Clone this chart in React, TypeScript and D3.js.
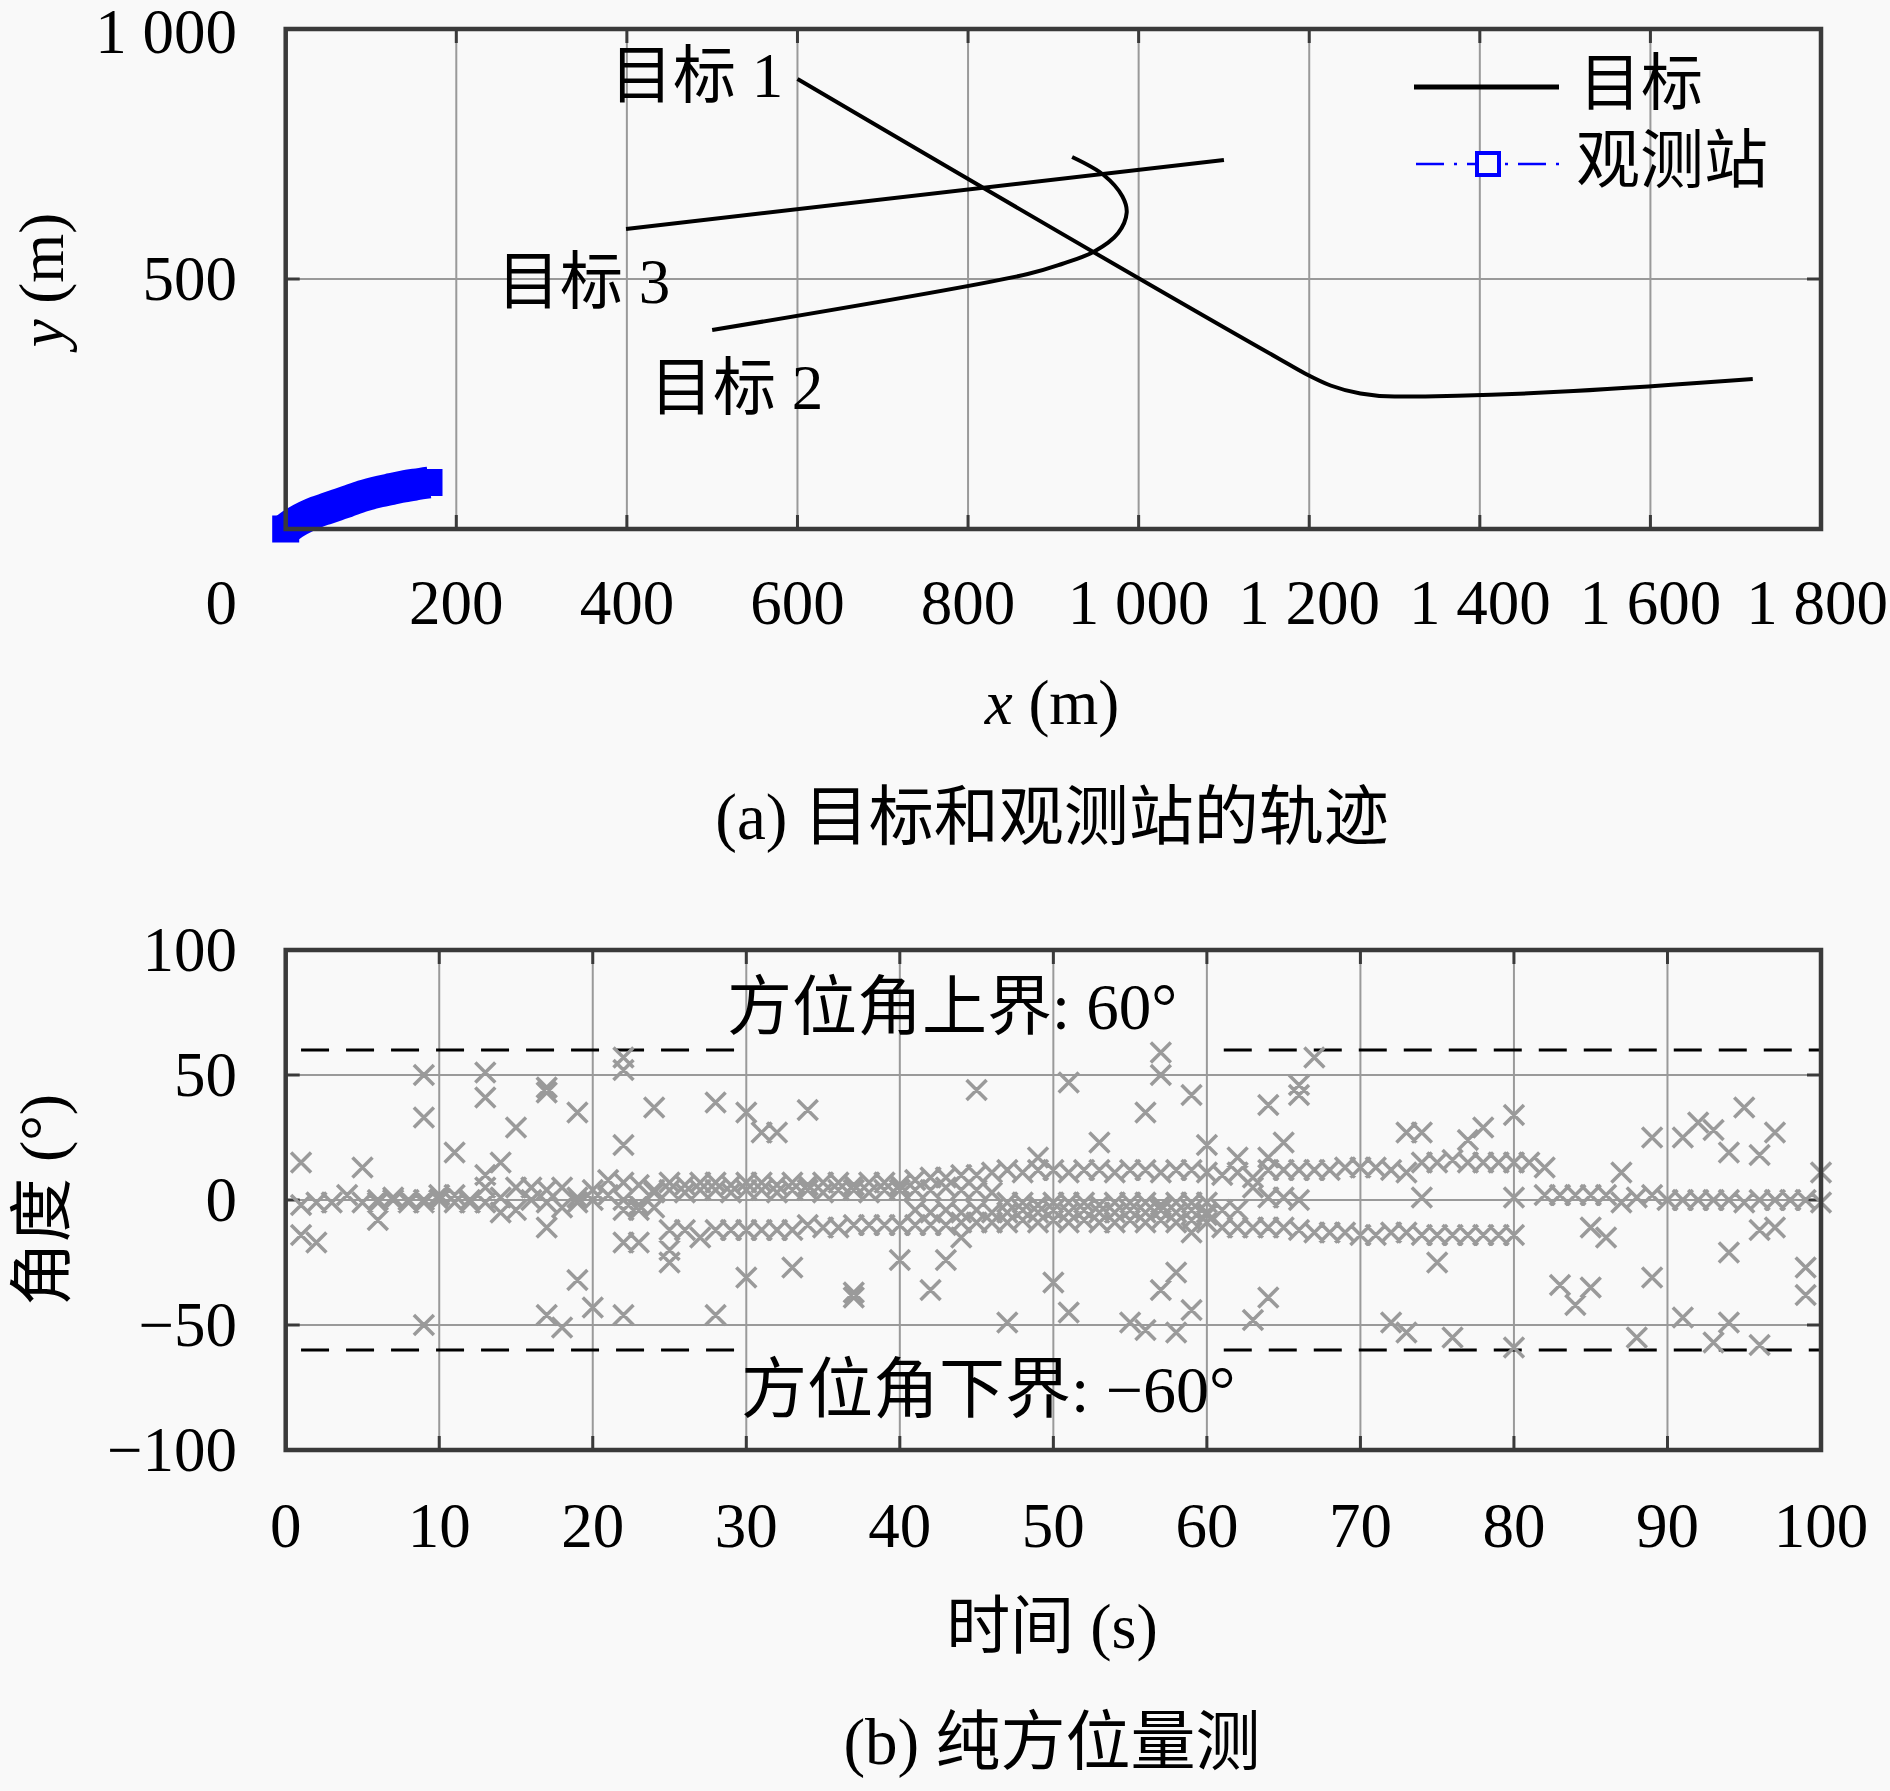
import React from 'react';
import * as d3 from 'd3';

// ---------- Panel (a) data ----------
const xTicksA = [0, 200, 400, 600, 800, 1000, 1200, 1400, 1600, 1800];
const xTickLabelsA = ['0', '200', '400', '600', '800', '1 000', '1 200', '1 400', '1 600', '1 800'];
const yTicksA = [0, 500, 1000];
const yTickLabelsA = ['', '500', '1 000'];

const target1: [number, number][] = [[600, 900], [1165, 340], [1195, 311], [1225, 287], [1260, 271], [1300, 265], [1720, 300]];
const target2: [number, number][] = [[500, 398], [870, 510], [910, 530], [948, 555], [976, 592], [986, 633], [981, 665], [959, 708], [922, 744]];
const target3: [number, number][] = [[399, 600], [1100, 738]];
const station: [number, number][] = [[0, 0], [12, 14], [24, 25], [36, 34], [48, 41], [60, 48], [72, 55], [90, 66], [110, 75], [124, 80], [138, 85], [152, 89], [168, 93]];

const targetLabels = [
  { text: '目标 1', x: 610, y: 76 },
  { text: '目标 3', x: 497, y: 282 },
  { text: '目标 2', x: 650, y: 388 },
];

// ---------- Panel (b) data ----------
const xTicksB = [0, 10, 20, 30, 40, 50, 60, 70, 80, 90, 100];
const yTicksB = [-100, -50, 0, 50, 100];
const yTickLabelsB = ['−100', '−50', '0', '50', '100'];
const boundSegments: [number, number][] = [[1, 29.3], [61.1, 100]];
const bounds = [60, -60];

// per-second bearings, t = 1..100 (null = no measurement)
const trackA: (number | null)[] = [
  -2, -1, -1, 2, -1, 0, 0, 0, -1, 2, -1, 0,
  5, 1, 5, 5, 4, 5, 1, 4,
  8, 7, 6, 4,
  7, 6, 7, 7, 6, 7, 7, 6, 7, 6, 7, 7, 6, 7, 7, 6,
  8, 9, 9, 10, 10, 11,
  12, 11, 12, 12, 11, 12, 12, 11, 12, 12, 11, 12, 12, 11,
  10, 11, 9, 12,
  12, 12, 12, 12, 13, 13, 13, 12, 11,
  15, 15, 16, 15, 15, 15, 15, 15,
  2, 2, 2, 2, 2, -1, 1, 2,
  0, 0, 0, 0, 0, -1, 0, 0, 0, 0, -1,
];
const trackB: (number | null)[] = [
  null, null, null, null, null, -1, 1, -1, 0, 0, 2, -1,
  -1, -5, -4, 0, -1, -3, -1, 0,
  2, 0, -2, 3,
  4, 3, 4, 4, 3, 4, 4, 3, 4, 4, 3, 4, 4, 3, 4, 4,
  4, 4, 5, 4, 4, 3,
  -1, -1, -2, -1, -1, -1, -2, -1, -1, -1, -2, -1, -1, -1,
  -4, -4, 5, 1, 1, 0,
  null, null, null, null, null, null, null, null, null, null, null, null, null, null, null, null, null,
  null, null, null, null, null, null, null, null, null, null, null, null, null, null, null, null, null,
];
const trackC: (number | null)[] = [
  null, null, null, null, null, null, null, null, null, null, null, null,
  null, null, null, null, null, null, null, null,
  null, -4, -4, -3,
  -12, -12, -15, -12, -12, -12, -12, -12, -12, -10, -11, -11, -10, -10, -10, -10,
  -10, -10, -10, -9, -9, -9,
  -9, -8, -9, -8, -9, -8, -9, -9, -8, -9, -8, -9, -8, -9,
  -11, -11, -11, -11, -11, -12,
  -13, -13, -13, -14, -14, -13, -13,
  -14, -14, -14, -14, -14, -14, -14,
  null, null, null, null, null, null, null, null, null, null,
  null, null, null, null, null, null, null, null, null, null,
];
const trackDStart = 41;
const trackD: number[] = [-4, -5, -4, -5, -4, -5, -5, -4, -5, -4, -5, -4, -5, -5, -4, -5, -4, -5, -4, -5];

const clutter: [number, number][] = [
  [1, 15], [1, -14], [2, -17], [5, 13], [6, -8], [9, 50], [9, 33], [9, -50], [11, 19], [13, 51], [13, 41], [13, 10],
  [14, 15], [15, 29], [17, 45], [17, 43], [17, -11], [19, 35], [19, -32], [20, -43], [17, -46], [18, -51],
  [22, 57], [22, 52], [24, 37], [22, 22], [28, 39], [30, 35], [31, 27], [32, 27], [34, 36], [22, -17], [23, -17],
  [25, -20], [25, -25], [30, -31], [33, -27], [37, -37], [37, -39], [22, -46], [28, -46], [40, -24],
  [45, 44], [51, 47], [57, 59], [57, 50], [59, 42], [56, 35], [53, 23], [60, 22], [49, 17], [43, -24], [42, -36],
  [44, -15], [50, -33], [51, -45], [47, -49], [55, -49], [56, -52], [58, -53], [59, -44], [57, -36], [58, -29],
  [59, -13], [60, -6],
  [67, 57], [66, 46], [66, 42], [64, 38], [65, 23], [64, 17], [62, 17], [73, 27], [74, 27], [78, 29], [77, 24],
  [80, 34], [74, 1], [80, 1], [75, -25], [64, -39], [63, -48], [72, -49], [73, -53], [76, -55], [80, -59],
  [82, 13], [87, 11], [85, -11], [86, -15], [89, 25], [91, 25], [92, 31], [93, 28], [95, 37], [97, 27], [94, 19],
  [96, 18], [96, -12], [97, -11], [94, -21], [99, -27], [99, -38], [83, -34], [85, -35], [84, -42], [89, -31],
  [91, -47], [94, -49], [88, -55], [93, -57], [96, -58], [100, 11], [100, -1],
];

// ---------- layout ----------
const W = 1890;
const H = 1791;
const LEFT = 285.7;
const RIGHT = 1821;
const LATIN = "'Liberation Serif', 'Noto Sans CJK SC', serif";
const BG = '#f9f9f9';
const BOX = '#3a3a3a';
const GRID = '#9a9a9a';
const FS = 63;

const xA = d3.scaleLinear().domain([0, 1800]).range([LEFT, RIGHT]);
const yA = d3.scaleLinear().domain([0, 1000]).range([529, 29]);
const xB = d3.scaleLinear().domain([0, 100]).range([LEFT, RIGHT]);
const yB = d3.scaleLinear().domain([-100, 100]).range([1450, 950]);

function Frame({ x, y, xTicks, yTicks }: { x: d3.ScaleLinear<number, number>; y: d3.ScaleLinear<number, number>; xTicks: number[]; yTicks: number[] }) {
  const [x0, x1] = x.range();
  const [y0, y1] = y.range();
  const tl = 14;
  return (
    <g>
      {xTicks.map((v) => (
        <line key={'gx' + v} x1={x(v)} x2={x(v)} y1={y0} y2={y1} stroke={GRID} strokeWidth={2} />
      ))}
      {yTicks.map((v) => (
        <line key={'gy' + v} x1={x0} x2={x1} y1={y(v)} y2={y(v)} stroke={GRID} strokeWidth={2} />
      ))}
      {xTicks.map((v) => (
        <g key={'tx' + v}>
          <line x1={x(v)} x2={x(v)} y1={y0} y2={y0 - tl} stroke={BOX} strokeWidth={3} />
          <line x1={x(v)} x2={x(v)} y1={y1} y2={y1 + tl} stroke={BOX} strokeWidth={3} />
        </g>
      ))}
      {yTicks.map((v) => (
        <g key={'ty' + v}>
          <line x1={x0} x2={x0 + tl} y1={y(v)} y2={y(v)} stroke={BOX} strokeWidth={3} />
          <line x1={x1} x2={x1 - tl} y1={y(v)} y2={y(v)} stroke={BOX} strokeWidth={3} />
        </g>
      ))}
    </g>
  );
}

function Box({ x, y }: { x: d3.ScaleLinear<number, number>; y: d3.ScaleLinear<number, number> }) {
  const [x0, x1] = x.range();
  const [y0, y1] = y.range();
  return <rect x={x0} y={y1} width={x1 - x0} height={y0 - y1} fill="none" stroke={BOX} strokeWidth={4.5} />;
}

export default function App() {
  const path1 = d3.line<[number, number]>().x((d) => xA(d[0])).y((d) => yA(d[1])).curve(d3.curveMonotoneX)(target1) || '';
  const path2 = d3.line<[number, number]>().x((d) => xA(d[0])).y((d) => yA(d[1])).curve(d3.curveCatmullRom.alpha(0.5))(target2) || '';
  const path3 = d3.line<[number, number]>().x((d) => xA(d[0])).y((d) => yA(d[1]))(target3) || '';
  const pathSt = d3.line<[number, number]>().x((d) => xA(d[0])).y((d) => yA(d[1])).curve(d3.curveMonotoneX)(station) || '';

  const pts: [number, number][] = [];
  [trackA, trackB, trackC].forEach((tr) => tr.forEach((v, i) => { if (v !== null) pts.push([i + 1, v]); }));
  trackD.forEach((v, i) => pts.push([trackDStart + i, v]));
  clutter.forEach((p) => pts.push(p));

  const h = 10;
  const crossPath = pts
    .map(([t, a]) => {
      const cx = xB(t);
      const cy = yB(a);
      return `M${cx - h},${cy - h}L${cx + h},${cy + h}M${cx - h},${cy + h}L${cx + h},${cy - h}`;
    })
    .join('');

  const sq = 27;
  const stEnds = [station[0], station[station.length - 1]];

  return (
    <svg width={W} height={H} viewBox={`0 0 ${W} ${H}`} style={{ position: 'absolute', left: 0, top: 0, background: BG }} fontFamily={LATIN}>
      <rect x={0} y={0} width={W} height={H} fill={BG} />

      {/* ---------- Panel (a) ---------- */}
      <Frame x={xA} y={yA} xTicks={xTicksA} yTicks={yTicksA} />
      <path d={path3} fill="none" stroke="#000" strokeWidth={4} />
      <path d={path2} fill="none" stroke="#000" strokeWidth={4} />
      <path d={path1} fill="none" stroke="#000" strokeWidth={4} />
      <path d={pathSt} fill="none" stroke="#0000ff" strokeWidth={32} strokeLinejoin="round" />
      {stEnds.map((d, i) => (
        <rect key={'st' + i} x={xA(d[0]) - sq / 2} y={yA(d[1]) - sq / 2} width={sq} height={sq} fill="#0000ff" />
      ))}
      <Box x={xA} y={yA} />

      {targetLabels.map((l) => (
        <text key={l.text} x={l.x} y={l.y} fontSize={FS} dominantBaseline="central">{l.text}</text>
      ))}

      {/* legend */}
      <line x1={1414} x2={1559} y1={87} y2={87} stroke="#000" strokeWidth={5} />
      <text x={1579} y={84} fontSize={62} dominantBaseline="central">目标</text>
      <line x1={1416} x2={1561} y1={164} y2={164} stroke="#0000ff" strokeWidth={2.5} strokeDasharray="28 10 3 10" />
      <rect x={1488 - 11} y={164 - 11} width={22} height={22} fill={BG} stroke="#0000ff" strokeWidth={4} />
      <text x={1576} y={160} fontSize={64} dominantBaseline="central">观测站</text>

      {/* tick labels (a) */}
      {xTicksA.map((v, i) =>
        v === 0 ? (
          <text key={'xla' + v} x={237} y={603} fontSize={FS} textAnchor="end" dominantBaseline="central">{xTickLabelsA[i]}</text>
        ) : (
          <text key={'xla' + v} x={v === 1800 ? xA(v) - 4 : xA(v)} y={603} fontSize={FS} textAnchor="middle" dominantBaseline="central">{xTickLabelsA[i]}</text>
        )
      )}
      {yTicksA.map((v, i) => (
        <text key={'yla' + v} x={237} y={v === 1000 ? yA(v) + 3 : yA(v)} fontSize={FS} textAnchor="end" dominantBaseline="central">{yTickLabelsA[i]}</text>
      ))}
      <text x={1052} y={703} fontSize={FS} textAnchor="middle" dominantBaseline="central">
        <tspan fontStyle="italic">x</tspan> (m)
      </text>
      <text x={42} y={280} fontSize={FS} textAnchor="middle" dominantBaseline="central" transform="rotate(-90 42 280)">
        <tspan fontStyle="italic">y</tspan> (m)
      </text>
      <text x={1052} y={817} fontSize={65} textAnchor="middle" dominantBaseline="central">(a) 目标和观测站的轨迹</text>

      {/* ---------- Panel (b) ---------- */}
      <Frame x={xB} y={yB} xTicks={xTicksB} yTicks={yTicksB} />
      {bounds.map((b) =>
        boundSegments.map((s, j) => (
          <line key={'b' + b + j} x1={xB(s[0])} x2={xB(s[1])} y1={yB(b)} y2={yB(b)} stroke="#000" strokeWidth={3} strokeDasharray="28 17" />
        ))
      )}
      <path d={crossPath} fill="none" stroke="#9a9a9a" strokeWidth={3.5} />
      <Box x={xB} y={yB} />
      <text x={727} y={1007} fontSize={65} dominantBaseline="central">方位角上界: 60°</text>
      <text x={741} y={1389} fontSize={66} dominantBaseline="central">方位角下界: −60°</text>

      {xTicksB.map((v) => (
        <text key={'xlb' + v} x={xB(v)} y={1526} fontSize={FS} textAnchor="middle" dominantBaseline="central">{String(v)}</text>
      ))}
      {yTicksB.map((v, i) => (
        <text key={'ylb' + v} x={237} y={yB(v)} fontSize={FS} textAnchor="end" dominantBaseline="central">{yTickLabelsB[i]}</text>
      ))}
      <text x={1052} y={1626} fontSize={64} textAnchor="middle" dominantBaseline="central">时间 (s)</text>
      <text x={42} y={1200} fontSize={64} textAnchor="middle" dominantBaseline="central" transform="rotate(-90 42 1200)">角度 (°)</text>
      <text x={1052} y={1742} fontSize={65} textAnchor="middle" dominantBaseline="central">(b) 纯方位量测</text>
    </svg>
  );
}
